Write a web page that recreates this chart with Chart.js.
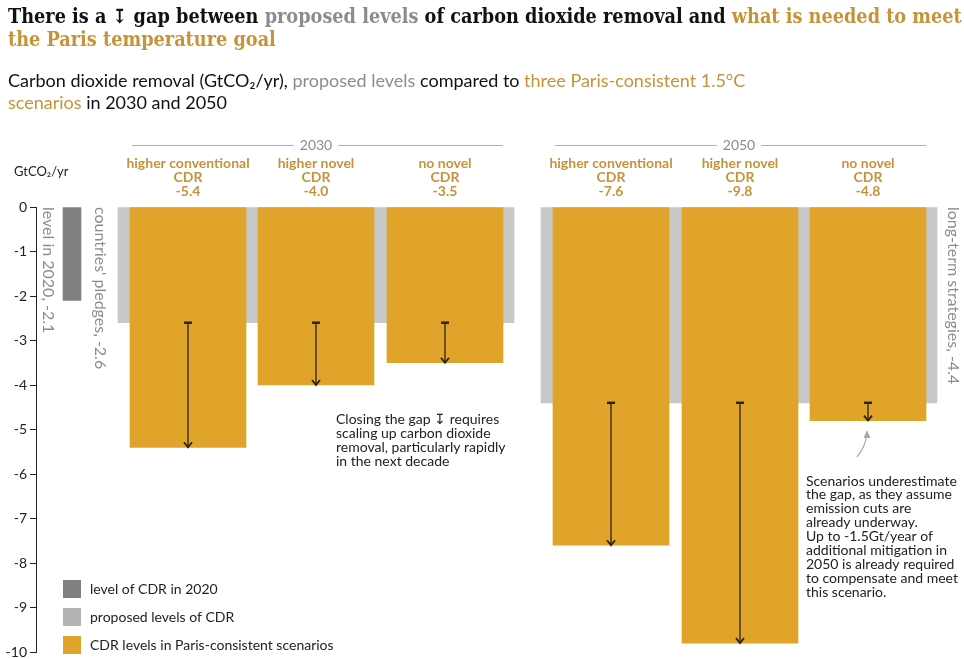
<!DOCTYPE html>
<html>
<head>
<meta charset="utf-8">
<script src="https://cdn.jsdelivr.net/npm/chart.js@4"></script>
<style>
  body { margin: 0; background: #fff; }
  #wrap { position: relative; width: 964px; height: 659px; overflow: hidden; }
  #chart { position: absolute; left: 0; top: 0; }
  .title { position: absolute; left: 8px; top: 5px; width: 956px;
    font: bold 19.7px "DejaVu Serif Condensed", "DejaVu Serif", serif; line-height: 23px; color: #111; }
  .sub { position: absolute; left: 8px; top: 69px; width: 752px;
    font: 18px Lato, sans-serif; line-height: 22px; color: #111; }
  .grey { color: #8c8c8c; }
  .gold { color: #c6933a; }
</style>
</head>
<body>
<div id="wrap">
  <canvas id="chart" width="964" height="659"></canvas>
  <div class="title">There is a ↧ gap between <span class="grey">proposed levels</span> of carbon dioxide removal and <span class="gold">what is needed to meet the Paris temperature goal</span></div>
  <div class="sub">Carbon dioxide removal (GtCO₂/yr), <span class="grey">proposed levels</span> compared to <span class="gold">three Paris-consistent 1.5°C scenarios</span> in 2030 and 2050</div>
</div>
<script>
// values, GtCO2/yr
var years = ['2030', '2050'];
var scenarios = ['higher conventional CDR', 'higher novel CDR', 'no novel CDR'];
var level2020 = -2.1;
var proposedNames = ["countries' pledges", 'long-term strategies'];
var proposed = [-2.6, -4.4];
var scenario2030 = [-5.4, -4.0, -3.5];
var scenario2050 = [-7.6, -9.8, -4.8];
var yTicks = [0, -1, -2, -3, -4, -5, -6, -7, -8, -9, -10];

// layout along the hidden x scale
var nowPos = 36;
var groupPos = [280, 703];
var barPos = [[152, 280, 409], [575, 704, 832]];

var dark = '#808080', light = '#c8c8c8', legendLight = '#b3b3b3', orange = '#e0a42a';
var goldText = '#c6933a', greyText = '#8c8c8c', ink = '#222';

var scenarioValues = [scenario2030, scenario2050];
var orangeData = [];
scenarioValues.forEach(function (vals, g) {
  vals.forEach(function (v, i) { orangeData.push({ x: barPos[g][i], y: [0, v] }); });
});

function gapArrow(ctx, x, y0, y1) {
  ctx.save();
  ctx.strokeStyle = '#2b2216';
  ctx.lineWidth = 1.3;
  ctx.beginPath(); ctx.moveTo(x, y0); ctx.lineTo(x, y1 - 1); ctx.stroke();
  ctx.lineWidth = 2.4;
  ctx.beginPath(); ctx.moveTo(x - 4, y0); ctx.lineTo(x + 4, y0); ctx.stroke();
  ctx.lineWidth = 1.8;
  ctx.beginPath(); ctx.moveTo(x - 4, y1 - 5); ctx.lineTo(x, y1); ctx.lineTo(x + 4, y1 - 5); ctx.stroke();
  ctx.restore();
}

function vLabel(ctx, text, x, y) {
  ctx.save();
  ctx.translate(x, y);
  ctx.rotate(Math.PI / 2);
  ctx.textAlign = 'left';
  ctx.textBaseline = 'middle';
  ctx.fillText(text, 0, 0);
  ctx.restore();
}

var decorations = {
  id: 'decorations',
  afterDatasetsDraw: function (chart) {
    var ctx = chart.ctx, xs = chart.scales.x, ys = chart.scales.y;
    var top = ys.getPixelForValue(0);

    // gap arrows
    scenarioValues.forEach(function (vals, g) {
      vals.forEach(function (v, i) {
        gapArrow(ctx, xs.getPixelForValue(barPos[g][i]), ys.getPixelForValue(proposed[g]), ys.getPixelForValue(v));
      });
    });

    // rotated labels
    ctx.fillStyle = greyText;
    ctx.font = '16px Lato';
    vLabel(ctx, 'level in 2020, ' + level2020.toFixed(1), xs.getPixelForValue(nowPos) - 24, top);
    vLabel(ctx, proposedNames[0] + ', ' + proposed[0].toFixed(1), xs.getPixelForValue(groupPos[0]) - 216, top);
    vLabel(ctx, proposedNames[1] + ', ' + proposed[1].toFixed(1), xs.getPixelForValue(groupPos[1]) + 214, top);

    // year headers and scenario labels
    ctx.textAlign = 'center';
    ctx.textBaseline = 'middle';
    years.forEach(function (yr, g) {
      var cx = xs.getPixelForValue(groupPos[g]);
      var l = xs.getPixelForValue(barPos[g][0]) - 56;
      var r = xs.getPixelForValue(barPos[g][2]) + 58;
      ctx.font = '14px Lato';
      var w = ctx.measureText(yr).width;
      ctx.fillStyle = greyText;
      ctx.fillText(yr, cx, 145);
      ctx.strokeStyle = '#b0b0b0';
      ctx.lineWidth = 1;
      ctx.beginPath();
      ctx.moveTo(l, 145.5); ctx.lineTo(cx - w / 2 - 6, 145.5);
      ctx.moveTo(cx + w / 2 + 6, 145.5); ctx.lineTo(r, 145.5);
      ctx.stroke();

      ctx.fillStyle = goldText;
      ctx.font = 'bold 14px Lato';
      scenarios.forEach(function (name, i) {
        var bx = xs.getPixelForValue(barPos[g][i]);
        var cut = name.lastIndexOf(' ');
        ctx.fillText(name.slice(0, cut), bx, 163);
        ctx.fillText(name.slice(cut + 1), bx, 177);
        ctx.fillText(scenarioValues[g][i].toFixed(1), bx, 191);
      });
    });

    // unit label
    ctx.textAlign = 'left';
    ctx.fillStyle = ink;
    ctx.font = '13px Lato';
    ctx.fillText('GtCO₂/yr', 14, 172);

    // annotations
    ctx.font = '14px Lato';
    ['Closing the gap ↧ requires', 'scaling up carbon dioxide', 'removal, particularly rapidly', 'in the next decade']
      .forEach(function (t, i) { ctx.fillText(t, 336, 419 + i * 14.3); });
    ['Scenarios underestimate', 'the gap, as they assume', 'emission cuts are', 'already underway.',
     'Up to -1.5Gt/year of', 'additional mitigation in', '2050 is already required',
     'to compensate and meet', 'this scenario.']
      .forEach(function (t, i) { ctx.fillText(t, 806, 481 + i * 13.9); });

    // curved pointer
    ctx.save();
    ctx.strokeStyle = '#a8a8a8';
    ctx.lineWidth = 1.2;
    ctx.beginPath();
    ctx.moveTo(857, 457);
    ctx.quadraticCurveTo(866, 446, 867, 433);
    ctx.stroke();
    ctx.fillStyle = '#a8a8a8';
    ctx.beginPath();
    ctx.moveTo(867, 430); ctx.lineTo(863.5, 438); ctx.lineTo(870.5, 438); ctx.closePath();
    ctx.fill();
    ctx.restore();

    // legend
    var items = [[dark, 'level of CDR in 2020'], [legendLight, 'proposed levels of CDR'], [orange, 'CDR levels in Paris-consistent scenarios']];
    items.forEach(function (it, i) {
      ctx.fillStyle = it[0];
      ctx.fillRect(63, 580 + i * 28, 18, 18);
      ctx.fillStyle = ink;
      ctx.fillText(it[1], 90, 589 + i * 28);
    });
  }
};

new Chart(document.getElementById('chart'), {
  type: 'bar',
  data: {
    datasets: [
      { label: 'CDR levels in Paris-consistent scenarios', data: orangeData, backgroundColor: orange, barThickness: 116, order: 1 },
      { label: 'proposed levels of CDR', data: groupPos.map(function (x, g) { return { x: x, y: [0, proposed[g]] }; }), backgroundColor: light, barThickness: 396, order: 2 },
      { label: 'level of CDR in 2020', data: [{ x: nowPos, y: [0, level2020] }], backgroundColor: dark, barThickness: 18, order: 3 }
    ]
  },
  options: {
    responsive: false,
    animation: false,
    datasets: { bar: { grouped: false, borderWidth: 0 } },
    layout: { padding: { top: 207, bottom: 7, left: 0, right: 0 } },
    plugins: { legend: { display: false }, tooltip: { enabled: false } },
    scales: {
      x: { type: 'linear', min: 0, max: 928, display: false, offset: false },
      y: {
        min: yTicks[yTicks.length - 1], max: yTicks[0],
        afterFit: function (s) { s.width = 36; s.paddingTop = 0; s.paddingBottom = 0; },
        afterBuildTicks: function (s) { s.ticks = yTicks.map(function (v) { return { value: v }; }); },
        ticks: { color: ink, font: { family: 'Lato', size: 14 }, padding: 3, callback: function (v) { return String(v); } },
        grid: { drawOnChartArea: false, drawTicks: true, tickLength: 6, color: ink },
        border: { display: true, color: ink, width: 1 }
      }
    }
  },
  plugins: [decorations]
});
</script>
</body>
</html>
